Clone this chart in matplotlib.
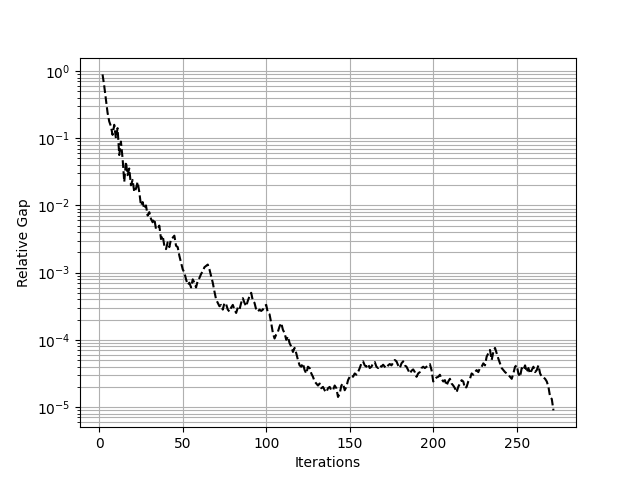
import numpy as np
import matplotlib
matplotlib.use("Agg")
import matplotlib.pyplot as plt

# iteration numbers (2 .. 272)
iterations = np.arange(2, 273)

# log10 of the relative gap, one value per iteration
log_gap = [
    -0.05, -0.22, -0.42, -0.62, -0.75, -0.82, -0.95, -0.80, -1.00, -0.85,
    -1.25, -1.05, -1.30, -1.65, -1.35, -1.55, -1.45, -1.70, -1.62, -1.80,
    -1.75, -1.65, -1.80, -2.00, -1.95, -2.05, -2.00, -2.15, -2.10, -2.20,
    -2.25, -2.20, -2.35, -2.35, -2.30, -2.50, -2.45, -2.60, -2.65, -2.55,
    -2.62, -2.50, -2.48, -2.45, -2.60, -2.62, -2.75, -2.85, -2.95, -3.00,
    -3.10, -3.18, -3.15, -3.22, -3.10, -3.15, -3.22, -3.12, -3.08, -3.02,
    -2.98, -2.92, -2.90, -2.88, -2.95, -3.05, -3.15, -3.28, -3.40, -3.45,
    -3.50, -3.48, -3.55, -3.45, -3.47, -3.55, -3.58, -3.52, -3.48, -3.55,
    -3.60, -3.52, -3.55, -3.45, -3.38, -3.45, -3.50, -3.42, -3.35, -3.30,
    -3.42, -3.45, -3.55, -3.58, -3.55, -3.57, -3.55, -3.50, -3.48, -3.60,
    -3.62, -3.75, -3.90, -3.98, -3.92, -3.88, -3.80, -3.75, -3.85, -3.90,
    -4.00, -3.95, -4.05, -4.10, -4.18, -4.12, -4.20, -4.30, -4.38, -4.40,
    -4.35, -4.45, -4.50, -4.40, -4.42, -4.50, -4.55, -4.62, -4.65, -4.68,
    -4.65, -4.72, -4.70, -4.75, -4.78, -4.72, -4.70, -4.75, -4.75, -4.68,
    -4.72, -4.85, -4.80, -4.68, -4.65, -4.75, -4.70, -4.60, -4.55, -4.53,
    -4.55, -4.50, -4.52, -4.48, -4.42, -4.35, -4.32, -4.38, -4.40, -4.36,
    -4.42, -4.40, -4.35, -4.33, -4.40, -4.42, -4.38, -4.40, -4.37, -4.40,
    -4.42, -4.38, -4.36, -4.38, -4.34, -4.30, -4.32, -4.38, -4.42, -4.35,
    -4.32, -4.38, -4.40, -4.45, -4.50, -4.46, -4.44, -4.48, -4.55, -4.50,
    -4.48, -4.42, -4.40, -4.42, -4.40, -4.38, -4.36, -4.45, -4.62, -4.58,
    -4.56, -4.55, -4.52, -4.58, -4.62, -4.60, -4.68, -4.62, -4.58, -4.65,
    -4.68, -4.72, -4.78, -4.70, -4.65, -4.60, -4.62, -4.72, -4.70, -4.62,
    -4.58, -4.50, -4.52, -4.48, -4.45, -4.48, -4.42, -4.40, -4.35, -4.38,
    -4.25, -4.20, -4.15, -4.30, -4.18, -4.12, -4.20, -4.28, -4.35, -4.42,
    -4.45, -4.48, -4.50, -4.52, -4.55, -4.58, -4.50, -4.40, -4.38, -4.50,
    -4.55, -4.42, -4.45, -4.38, -4.48, -4.42, -4.50, -4.45, -4.40, -4.48,
    -4.45, -4.38, -4.50, -4.55, -4.56, -4.58, -4.62, -4.70, -4.85, -4.88,
    -5.05,
]

rel_gap = 10.0 ** np.array(log_gap)

plt.figure(figsize=(6.4, 4.8), dpi=100)
plt.semilogy(iterations, rel_gap, "k--")
plt.grid(True, which="both")
plt.xlabel("Iterations")
plt.ylabel("Relative Gap")
plt.savefig("out.png")
